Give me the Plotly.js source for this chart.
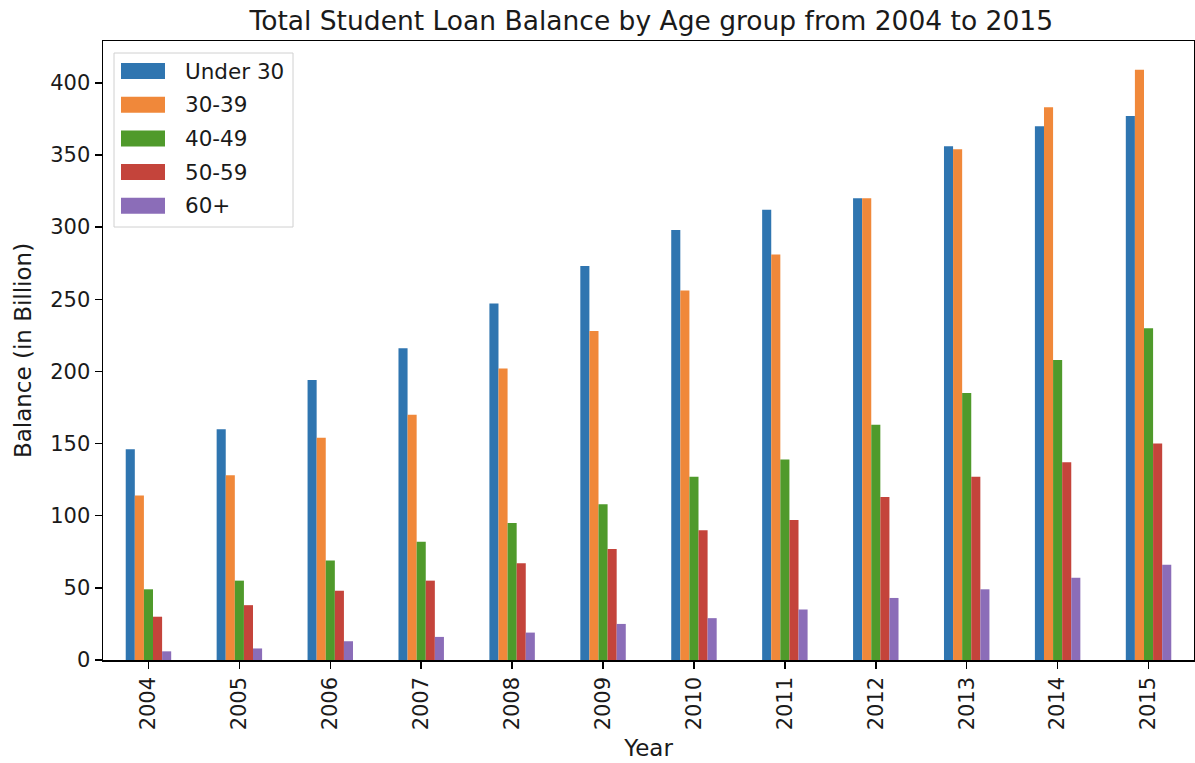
<!DOCTYPE html>
<html>
<head>
<meta charset="utf-8">
<script src="https://cdn.plot.ly/plotly-3.0.1.min.js"></script>
<style>
  html, body { margin: 0; padding: 0; background: #ffffff; }
  #chart { width: 1195px; height: 763px; }
</style>
</head>
<body>
<div id="chart"></div>
<script>
// Years on the x axis
const years = ['2004', '2005', '2006', '2007', '2008', '2009',
               '2010', '2011', '2012', '2013', '2014', '2015'];

// Balance in billions, one array per age group
const under30 = [146, 160, 194, 216, 247, 273, 298, 312, 320, 356, 370, 377];
const age30to39 = [114, 128, 154, 170, 202, 228, 256, 281, 320, 354, 383, 409];
const age40to49 = [49, 55, 69, 82, 95, 108, 127, 139, 163, 185, 208, 230];
const age50to59 = [30, 38, 48, 55, 67, 77, 90, 97, 113, 127, 137, 150];
const age60plus = [6, 8, 13, 16, 19, 25, 29, 35, 43, 49, 57, 66];

const seriesNames = ['Under 30', '30-39', '40-49', '50-59', '60+'];
const seriesValues = [under30, age30to39, age40to49, age50to59, age60plus];
const seriesColors = ['#2f75b0', '#f0883a', '#4f9a2b', '#c4443b', '#8b6db8'];

const yTicks = [0, 50, 100, 150, 200, 250, 300, 350, 400];

const FONT = 'DejaVu Sans, sans-serif';
const INK = '#1a1a1a';

const traces = seriesNames.map((name, i) => ({
  type: 'bar',
  name: name,
  x: years,
  y: seriesValues[i],
  showlegend: false,
  marker: { color: seriesColors[i], line: { width: 0 } },
  hoverinfo: 'x+y+name'
}));

// Legend box in the upper-left corner of the axes, with wide colour patches.
// Offsets are pixels from the top-left corner of the plotting area.
const LEG = {
  boxLeft: 11, boxRight: 190, boxTop: -12, boxBottom: -186,
  patchLeft: 18, patchRight: 62, patchHalf: 8,
  firstRow: -30, rowStep: -33.7, textLeft: 80
};

function pxRect(x0, x1, y0, y1, style) {
  return Object.assign({
    type: 'rect', xref: 'paper', yref: 'paper',
    xsizemode: 'pixel', ysizemode: 'pixel', xanchor: 0, yanchor: 1,
    x0: x0, x1: x1, y0: y0, y1: y1, layer: 'above'
  }, style);
}

const shapes = [
  pxRect(LEG.boxLeft, LEG.boxRight, LEG.boxBottom, LEG.boxTop, {
    fillcolor: 'rgba(255,255,255,0.8)',
    line: { color: '#d0d0d0', width: 1 }
  })
];
const annotations = [];
seriesNames.forEach((name, i) => {
  const yc = LEG.firstRow + i * LEG.rowStep;
  shapes.push(pxRect(LEG.patchLeft, LEG.patchRight, yc - LEG.patchHalf, yc + LEG.patchHalf, {
    fillcolor: seriesColors[i], line: { width: 0 }
  }));
  annotations.push({
    text: name, xref: 'paper', yref: 'paper', x: 0, y: 1,
    xshift: LEG.textLeft, yshift: yc, xanchor: 'left', yanchor: 'middle',
    showarrow: false, font: { family: FONT, size: 21.5, color: INK }
  });
});

const layout = {
  width: 1195,
  height: 763,
  paper_bgcolor: '#ffffff',
  plot_bgcolor: '#ffffff',
  margin: { l: 103, r: 1, t: 41, b: 103 },
  font: { family: FONT, size: 21, color: INK },
  title: {
    text: 'Total Student Loan Balance by Age group from 2004 to 2015',
    font: { family: FONT, size: 26.5, color: INK },
    x: 0.545, xanchor: 'center',
    y: 0.973, yanchor: 'middle'
  },
  barmode: 'group',
  bargap: 0.5,
  bargroupgap: 0,
  showlegend: false,
  shapes: shapes,
  annotations: annotations,
  xaxis: {
    type: 'category',
    range: [-0.5, years.length - 0.5],
    tickangle: -90,
    ticks: 'outside',
    ticklen: 7,
    tickwidth: 1.5,
    tickcolor: '#000000',
    showline: true,
    linecolor: '#000000',
    linewidth: 1.5,
    mirror: true,
    showgrid: false,
    zeroline: false,
    tickfont: { family: FONT, size: 21, color: INK },
    title: { text: 'Year', font: { family: FONT, size: 23, color: INK }, standoff: 10 }
  },
  yaxis: {
    range: [0, 429],
    tickvals: yTicks,
    ticktext: yTicks.map(String),
    ticks: 'outside',
    ticklen: 7,
    tickwidth: 1.5,
    tickcolor: '#000000',
    showline: true,
    linecolor: '#000000',
    linewidth: 1.5,
    mirror: true,
    showgrid: false,
    zeroline: false,
    tickfont: { family: FONT, size: 21, color: INK },
    title: { text: 'Balance (in Billion)', font: { family: FONT, size: 23, color: INK }, standoff: 12 }
  }
};

Plotly.newPlot('chart', traces, layout, { displayModeBar: false, staticPlot: true });
</script>
</body>
</html>
